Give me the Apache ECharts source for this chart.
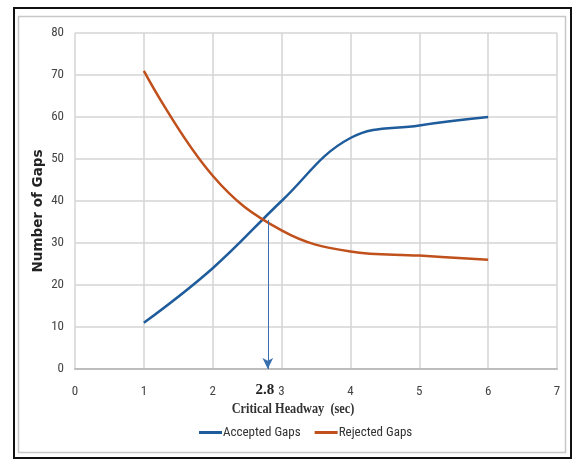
<!DOCTYPE html>
<html><head><meta charset="utf-8">
<script src="https://cdn.jsdelivr.net/npm/echarts@6/dist/echarts.min.js"></script>
<style>html,body{margin:0;padding:0;background:#fff}#c{width:573px;height:461px}</style>
</head><body><div id="c"></div>
<script>
const headway = [1, 2, 3, 4, 5, 6];
const accepted = [11, 24, 40, 55, 58, 60];
const rejected = [71, 46, 33, 28, 27, 26];
const criticalHeadway = 2.8;
const criticalGaps = 35.5;
const xTicks = [0, 1, 2, 3, 4, 5, 6, 7];
const yTicks = [0, 10, 20, 30, 40, 50, 60, 70, 80];

const narrow = "'Liberation Sans Narrow','Roboto Condensed','Liberation Sans',sans-serif";
const chart = echarts.init(document.getElementById('c'), null, {renderer: 'canvas'});
chart.setOption({
  animation: false,
  grid: {left: 75, right: 16, top: 33, bottom: 92},
  graphic: [
    {type: 'rect', shape: {x: 14, y: 8, width: 557, height: 450}, style: {fill: 'none', stroke: '#111', lineWidth: 2}},
    {type: 'rect', shape: {x: 18.5, y: 16.5, width: 547, height: 436}, style: {fill: 'none', stroke: '#c8c8c8', lineWidth: 1.5}},
    {type: 'text', x: 293, y: 409, scaleX: 0.82, style: {text: 'Critical Headway  (sec)', font: "bold 15px 'Liberation Serif', serif", fill: '#333', align: 'center', verticalAlign: 'middle'}},
    {type: 'text', x: 38, y: 211, rotation: Math.PI / 2, style: {text: 'Number of Gaps', font: "bold 13.5px 'DejaVu Sans', sans-serif", fill: '#222', align: 'center', verticalAlign: 'middle'}}
  ],
  legend: {
    left: 194, top: 421, itemWidth: 23, itemHeight: 3, itemGap: 14, icon: 'rect',
    textStyle: {fontFamily: narrow, fontSize: 13, color: '#333', padding: [0, 0, 0, -4]},
    data: ['Accepted Gaps', 'Rejected Gaps']
  },
  xAxis: {
    type: 'value', min: xTicks[0], max: xTicks[xTicks.length - 1], interval: 1,
    axisLine: {show: true, lineStyle: {color: '#bdbdbd', width: 2}},
    axisTick: {show: false},
    splitLine: {show: true, lineStyle: {color: '#d4d4d4', width: 1.5}},
    axisLabel: {margin: 16, fontFamily: narrow, fontSize: 13, color: '#444'}
  },
  yAxis: {
    type: 'value', min: yTicks[0], max: yTicks[yTicks.length - 1], interval: 10,
    axisLine: {show: false}, axisTick: {show: false},
    splitLine: {show: true, lineStyle: {color: '#d4d4d4', width: 1.5}},
    axisLabel: {margin: 11, fontFamily: narrow, fontSize: 13, color: '#444'}
  },
  series: [
    {
      name: 'Accepted Gaps', type: 'line', smooth: 0.4, showSymbol: false, symbol: 'none',
      data: headway.map((h, i) => [h, accepted[i]]),
      lineStyle: {color: '#1f5c9c', width: 2.5}, itemStyle: {color: '#1f5c9c'},
      markLine: {
        silent: true, symbol: ['none', 'arrow'], symbolSize: [8, 11],
        lineStyle: {color: '#3a6fb0', width: 1, type: 'solid'},
        label: {show: false},
        data: [[{coord: [criticalHeadway, criticalGaps]}, {coord: [criticalHeadway, 0]}]]
      },
      markPoint: {
        silent: true, symbol: 'circle', symbolSize: 0,
        label: {show: true, formatter: String(criticalHeadway), offset: [-3, 21], fontFamily: "'Liberation Serif', serif", fontWeight: 'bold', fontSize: 15, color: '#222'},
        data: [{coord: [criticalHeadway, 0]}]
      }
    },
    {
      name: 'Rejected Gaps', type: 'line', smooth: 0.4, showSymbol: false, symbol: 'none',
      data: headway.map((h, i) => [h, rejected[i]]),
      lineStyle: {color: '#c0501c', width: 2.5}, itemStyle: {color: '#c0501c'}
    }
  ]
});
</script></body></html>
